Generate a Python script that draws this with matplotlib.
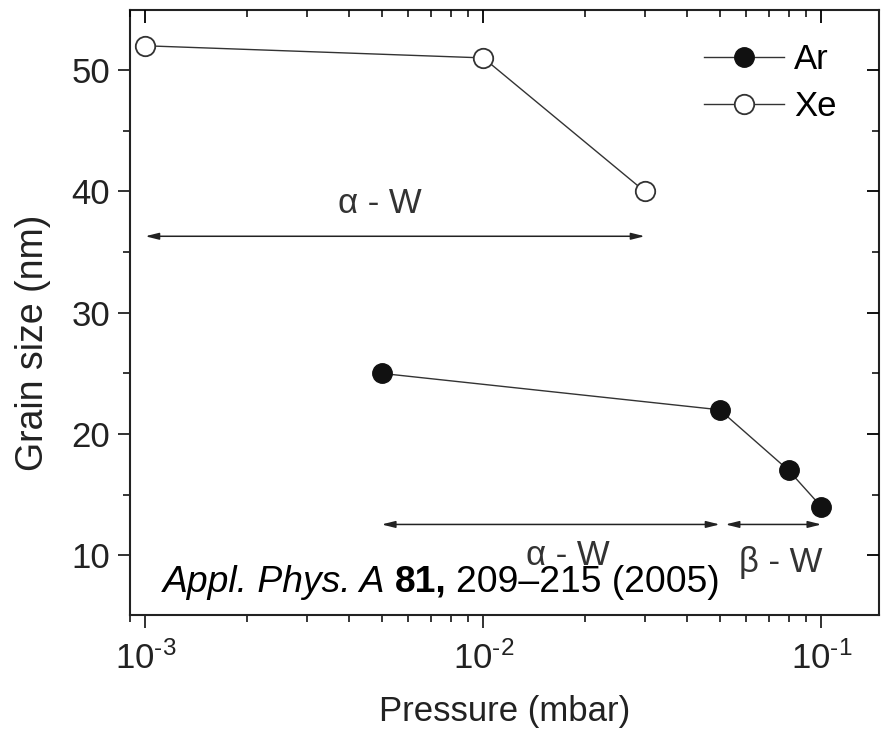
import matplotlib
matplotlib.use('Agg')
import matplotlib.pyplot as plt

plt.rcParams['font.family'] = ['Liberation Sans', 'DejaVu Sans']
plt.rcParams['mathtext.fontset'] = 'custom'
plt.rcParams['mathtext.rm'] = 'Liberation Sans'
plt.rcParams['mathtext.it'] = 'Liberation Sans:italic'
plt.rcParams['mathtext.bf'] = 'Liberation Sans:bold'

# data
ar_p = [5e-3, 5e-2, 8e-2, 1e-1]
ar_size = [25, 22, 17, 14]
xe_p = [1e-3, 1e-2, 3e-2]
xe_size = [52, 51, 40]

# phase ranges: label, pressure from, to, arrow height, label x, label y
phases = [
    ('α - W', 1e-3, 3e-2, 36.3, 4.95e-3, 39.0),
    ('α - W', 5e-3, 5e-2, 12.55, 1.78e-2, 9.95),
    ('β - W', 5.2e-2, 1e-1, 12.55, 7.6e-2, 9.45),
]

xticks = [1e-3, 1e-2, 1e-1]
xticklabels = ['10$^{\\text{-3}}$', '10$^{\\text{-2}}$', '10$^{\\text{-1}}$']
yticks = [10, 20, 30, 40, 50]
yminor = [15, 25, 35, 45]

fs = 25
txt_c = '#222222'

fig = plt.figure(figsize=(8.83, 7.39), dpi=100)
ax = fig.add_axes([0.147, 0.168, 0.8485, 0.8185])

line_c = '#333333'
ax.plot(ar_p, ar_size, '-o', color=line_c, lw=1.0, ms=14,
        mfc='#111111', mec='#111111', label='Ar')
ax.plot(xe_p, xe_size, '-o', color=line_c, lw=1.0, ms=14,
        mfc='white', mec=line_c, mew=1.3, label='Xe')

for txt, x0, x1, ya, xt, yt in phases:
    ax.annotate('', xy=(x1, ya), xytext=(x0, ya),
                arrowprops=dict(arrowstyle='<|-|>,head_length=0.8,head_width=0.2',
                                color='#222222', lw=1.1, shrinkA=0, shrinkB=0))
    ax.text(xt, yt, txt, fontsize=fs, color='#333333', ha='center', va='center')

# citation, built from three pieces
cfs = 26.8
t1 = ax.text(1.13e-3, 7.8, 'Appl. Phys. A', fontsize=cfs, style='italic',
             color='black', ha='left', va='center')
t2 = ax.annotate('81,', xy=(1, 0), xycoords=t1, xytext=(6.5, 0),
                 textcoords='offset points', fontsize=cfs, weight='bold',
                 color='black', va='bottom')
ax.annotate('209–215 (2005)', xy=(1, 0), xycoords=t2, xytext=(6.5, 0),
            textcoords='offset points', fontsize=cfs, color='black',
            va='bottom')

ax.set_xscale('log')
ax.set_xlim(9e-4, 0.148)
ax.set_ylim(5.1, 54.95)
ax.set_xticks(xticks)
ax.set_xticklabels(xticklabels)
ax.set_yticks(yticks)
ax.set_yticks(yminor, minor=True)
ax.tick_params(axis='both', which='major', direction='out', length=9,
               width=1.3, labelsize=fs, colors=txt_c)
ax.tick_params(axis='y', which='major', pad=5)
ax.tick_params(axis='x', which='major', pad=10)
ax.tick_params(axis='both', which='minor', direction='out', length=5, width=1.1)
ax.tick_params(axis='x', which='minor', labelbottom=False)
for s in ax.spines.values():
    s.set_linewidth(1.5)
    s.set_color(txt_c)

ax.set_xlabel('Pressure (mbar)', fontsize=fs, color=txt_c, labelpad=14)
ax.set_ylabel('Grain size (nm)', fontsize=27, color=txt_c)
ax.yaxis.set_label_coords(-0.105, 0.45)

# mirrored ticks pointing inward on top and right
top = ax.twiny()
top.set_xscale('log')
top.set_xlim(ax.get_xlim())
top.set_xticks(xticks)
top.tick_params(axis='x', which='both', direction='in', labeltop=False)
top.tick_params(axis='x', which='major', length=9, width=1.3)
top.tick_params(axis='x', which='minor', length=5, width=1.1)
right = ax.twinx()
right.set_ylim(ax.get_ylim())
right.set_yticks(yticks)
right.set_yticks(yminor, minor=True)
right.tick_params(axis='y', which='both', direction='in', labelright=False)
right.tick_params(axis='y', which='major', length=9, width=1.3)
right.tick_params(axis='y', which='minor', length=5, width=1.1)
for a in (top, right):
    for s in a.spines.values():
        s.set_visible(False)

ax.legend(loc='upper right', frameon=False, fontsize=fs, handlelength=2.3,
          handletextpad=0.3, labelspacing=0.4, borderaxespad=0.0,
          bbox_to_anchor=(0.962, 0.968))

fig.savefig('out.png', dpi=100)
